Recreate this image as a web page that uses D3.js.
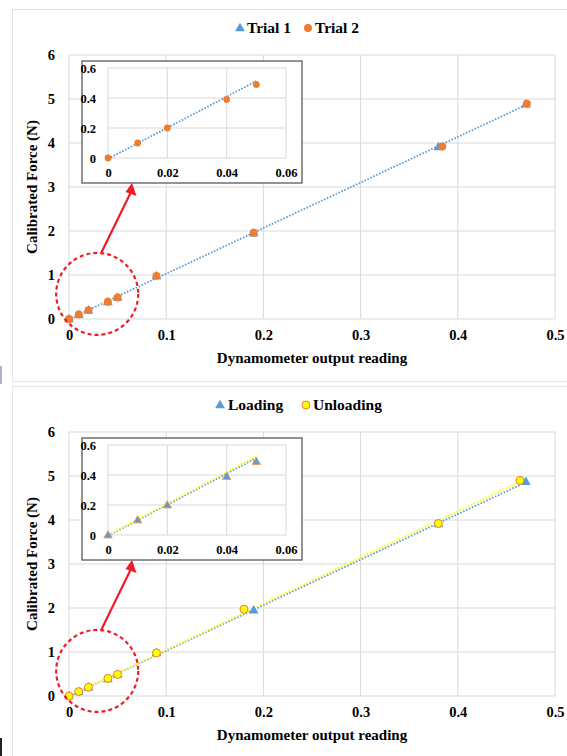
<!DOCTYPE html>
<html>
<head>
<meta charset="utf-8">
<script src="https://cdn.jsdelivr.net/npm/d3@7"></script>
<style>
  body { margin: 0; background: #fff; }
</style>
</head>
<body>
<svg id="chart" width="567" height="756" font-family="'Liberation Serif', 'Times New Roman', Times, serif" font-weight="bold"></svg>
<script>
// calibration readings
var trial1X = [0, 0.01, 0.02, 0.04, 0.05, 0.09, 0.19, 0.38, 0.47];
var trial1Y = [0, 0.10, 0.20, 0.39, 0.49, 0.98, 1.95, 3.91, 4.88];
var trial2X = [0, 0.01, 0.02, 0.04, 0.05, 0.09, 0.19, 0.384, 0.471];
var trial2Y = [0, 0.10, 0.20, 0.39, 0.49, 0.98, 1.96, 3.92, 4.89];

var loadingX = [0, 0.01, 0.02, 0.04, 0.05, 0.09, 0.19, 0.38, 0.47];
var loadingY = [0, 0.10, 0.20, 0.39, 0.49, 0.98, 1.95, 3.91, 4.87];
var unloadingX = [0, 0.01, 0.02, 0.04, 0.05, 0.09, 0.18, 0.38, 0.464];
var unloadingY = [0, 0.10, 0.20, 0.40, 0.49, 0.98, 1.97, 3.92, 4.90];

var xTicks = [0, 0.1, 0.2, 0.3, 0.4, 0.5];
var yTicks = [0, 1, 2, 3, 4, 5, 6];
var insetXTicks = [0, 0.02, 0.04, 0.06];
var insetYTicks = [0, 0.2, 0.4, 0.6];

var xTitle = "Dynamometer output reading";
var yTitle = "Calibrated Force (N)";

var FONT = "'Liberation Serif', 'Times New Roman', Times, serif";
var blue = "#5b9bd5", orange = "#ed7d31", yellow = "#ffff00", grid = "#d9d9d9", red = "#ee1c25";

function zip(xs, ys) {
  return xs.map(function(x, i) { return {x: x, y: ys[i]}; });
}

// least squares line, used for the dotted trendlines
function fit(pts) {
  var mx = d3.mean(pts, d => d.x), my = d3.mean(pts, d => d.y);
  var sxy = d3.sum(pts, d => (d.x - mx) * (d.y - my));
  var sxx = d3.sum(pts, d => (d.x - mx) * (d.x - mx));
  var b = sxy / sxx;
  return {a: my - b * mx, b: b};
}

var svg = d3.select("#chart");

// small scan edges at the left of the figure
svg.append("rect").attr("x", 0).attr("y", 366).attr("width", 2).attr("height", 18).attr("fill", "#aab4c6");
svg.append("rect").attr("x", 0).attr("y", 738).attr("width", 2).attr("height", 18).attr("fill", "#222");

function styleAxis(a, size) {
  a.attr("font-family", FONT).attr("font-weight", "bold");
  a.select(".domain").remove();
  a.selectAll("text").attr("font-family", FONT).attr("font-weight", "bold")
    .attr("font-size", size).attr("fill", "#000");
}

function label(g, x, y, size, txt, anchor) {
  return g.append("text").attr("x", x).attr("y", y)
    .attr("font-family", FONT).attr("font-weight", "bold").attr("font-size", size)
    .attr("text-anchor", anchor || "start").text(txt);
}

function drawMarker(g, shape, cx, cy, fill, stroke, k) {
  var sym = shape === "triangle" ? d3.symbolTriangle : d3.symbolCircle;
  var size = (shape === "triangle" ? 42 : 50) * k * k;
  g.append("path").attr("d", d3.symbol().type(sym).size(size)())
    .attr("transform", "translate(" + cx + "," + (cy + (shape === "triangle" ? 0.5 : 0)) + ")")
    .attr("fill", fill).attr("stroke", stroke || "none").attr("stroke-width", 1);
}

function drawTrends(g, x, y, trends, xmax) {
  trends.forEach(function(t) {
    var f = fit(t.pts);
    var x1 = Math.min(xmax, d3.max(t.pts, d => d.x));
    g.append("line")
      .attr("x1", x(0)).attr("y1", y(f.a))
      .attr("x2", x(x1)).attr("y2", y(f.a + f.b * x1))
      .attr("stroke", t.color).attr("stroke-width", 1.8).attr("stroke-dasharray", "1.6,1.6");
  });
}

function drawPoints(g, x, y, series, k, xmax) {
  series.forEach(function(s) {
    s.pts.filter(d => d.x <= xmax).forEach(function(d) {
      drawMarker(g, s.shape, x(d.x), y(d.y), s.fill, s.stroke, k);
    });
  });
}

function drawPanel(top, cfg) {
  var g = svg.append("g").attr("transform", "translate(0," + top + ")");

  g.append("rect")
    .attr("x", 12.5).attr("y", 9.5).attr("width", 560).attr("height", 372)
    .attr("fill", "none").attr("stroke", "#e3e3e3");

  var x = d3.scaleLinear().domain([0, 0.5]).range([69, 555]),
      y = d3.scaleLinear().domain([0, 6]).range([319, 55]);

  // grid
  g.append("g").selectAll("line").data(xTicks).enter().append("line")
    .attr("x1", d => x(d)).attr("x2", d => x(d)).attr("y1", y(0)).attr("y2", y(6))
    .attr("stroke", grid);
  g.append("g").selectAll("line").data(yTicks).enter().append("line")
    .attr("x1", x(0)).attr("x2", x(0.5)).attr("y1", d => y(d)).attr("y2", d => y(d))
    .attr("stroke", grid);

  styleAxis(g.append("g").attr("transform", "translate(0," + (y(0) + 8) + ")")
    .call(d3.axisBottom(x).tickValues(xTicks).tickSize(0).tickFormat(d3.format(""))), 14.5);
  styleAxis(g.append("g").attr("transform", "translate(" + (x(0) - 11) + ",0)")
    .call(d3.axisLeft(y).tickValues(yTicks).tickSize(0).tickFormat(d3.format("d"))), 14.5);

  label(g, 312, 363, 15, xTitle, "middle");
  label(g, 0, 0, 15, yTitle, "middle").attr("transform", "translate(37,187) rotate(-90)");

  // legend
  cfg.legend.forEach(function(l) {
    drawMarker(g, l.shape, l.mx, 28, l.fill, l.stroke, 1);
    label(g, l.tx, 33, 15.5, l.label);
  });

  drawTrends(g, x, y, cfg.trends, 1);
  drawPoints(g, x, y, cfg.series, 1, 1);

  // inset: zoom on the first readings
  g.append("rect").attr("x", 82).attr("y", 61).attr("width", 220).attr("height", 122)
    .attr("fill", "#fff").attr("stroke", "#595959").attr("stroke-width", 1.3);
  var ix = d3.scaleLinear().domain([0, 0.06]).range([108, 286]),
      iy = d3.scaleLinear().domain([0, 0.6]).range([158, 68]);
  g.append("g").selectAll("line").data(insetXTicks).enter().append("line")
    .attr("x1", d => ix(d)).attr("x2", d => ix(d)).attr("y1", iy(0)).attr("y2", iy(0.6))
    .attr("stroke", grid);
  g.append("g").selectAll("line").data(insetYTicks).enter().append("line")
    .attr("x1", ix(0)).attr("x2", ix(0.06)).attr("y1", d => iy(d)).attr("y2", d => iy(d))
    .attr("stroke", grid);
  styleAxis(g.append("g").attr("transform", "translate(0," + (iy(0) + 7) + ")")
    .call(d3.axisBottom(ix).tickValues(insetXTicks).tickSize(0).tickFormat(d3.format(""))), 12.5);
  styleAxis(g.append("g").attr("transform", "translate(" + (ix(0) - 9) + ",0)")
    .call(d3.axisLeft(iy).tickValues(insetYTicks).tickSize(0).tickFormat(d3.format(""))), 12.5);

  drawTrends(g, ix, iy, cfg.trends, 0.05);
  drawPoints(g, ix, iy, cfg.insetSeries, 0.85, 0.06);

  // zoom circle and arrow pointing at the inset
  var cx = x(0.029), cy = y(0.57), r = 41;
  g.append("circle").attr("cx", cx).attr("cy", cy).attr("r", r)
    .attr("fill", "none").attr("stroke", red).attr("stroke-width", 2.2)
    .attr("stroke-dasharray", "4,3");
  g.append("line").attr("x1", cx + 4).attr("y1", cy - r)
    .attr("x2", 130.5).attr("y2", 193)
    .attr("stroke", red).attr("stroke-width", 2.2);
  g.append("path")
    .attr("d", "M132,183 L136.5,196 L125.5,192 Z")
    .attr("fill", red);
}

var t1 = zip(trial1X, trial1Y), t2 = zip(trial2X, trial2Y);
drawPanel(0, {
  series: [
    {pts: t1, shape: "triangle", fill: blue},
    {pts: t2, shape: "circle", fill: orange}
  ],
  insetSeries: [
    {pts: t2, shape: "circle", fill: orange}
  ],
  trends: [{pts: t1, color: blue}],
  legend: [
    {shape: "triangle", mx: 240, tx: 247, label: "Trial 1", fill: blue},
    {shape: "circle", mx: 308, tx: 315, label: "Trial 2", fill: orange}
  ]
});

var lo = zip(loadingX, loadingY), un = zip(unloadingX, unloadingY);
drawPanel(377, {
  series: [
    {pts: lo, shape: "triangle", fill: blue},
    {pts: un, shape: "circle", fill: yellow, stroke: orange}
  ],
  insetSeries: [
    {pts: lo, shape: "triangle", fill: blue, stroke: "#e8a060"}
  ],
  trends: [{pts: lo, color: blue}, {pts: un, color: yellow}],
  legend: [
    {shape: "triangle", mx: 220, tx: 228, label: "Loading", fill: blue},
    {shape: "circle", mx: 306, tx: 313, label: "Unloading", fill: yellow, stroke: orange}
  ]
});
</script>
</body>
</html>
